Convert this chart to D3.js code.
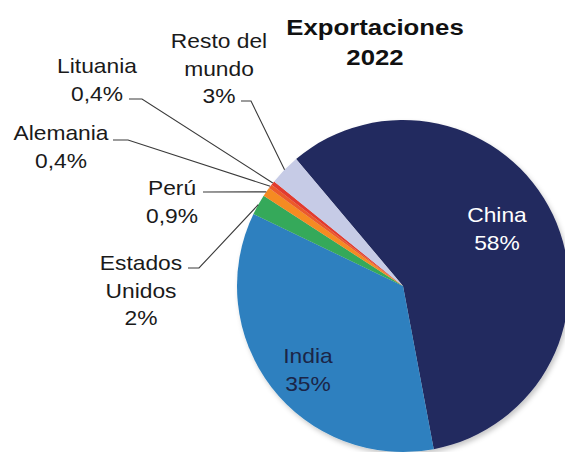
<!DOCTYPE html>
<html>
<head>
<meta charset="utf-8">
<script src="https://cdn.jsdelivr.net/npm/d3@7"></script>
<style>
  html, body { margin: 0; padding: 0; background: #fff; }
  svg { display: block; }
  text { font-family: "Liberation Sans", Arial, Helvetica, sans-serif; }
</style>
</head>
<body>
<svg id="chart" width="565" height="452"></svg>
<script>
// Export shares 2022 (% of total), in drawing order (clockwise)
const countries = ["China", "India", "Estados Unidos", "Perú", "Alemania", "Lituania", "Resto del mundo"];
const shares    = [58, 35, 2, 0.9, 0.4, 0.4, 3];
const colors    = ["#232a5e", "#2d80bf", "#36a95a", "#f58b22", "#ec5a2c", "#e23a2f", "#c6cbe6"];

// Text lines of each slice's name label
const labelLines = [
  ["China"], ["India"], ["Estados", "Unidos"], ["Perú"], ["Alemania"], ["Lituania"], ["Resto del", "mundo"]
];

const title = ["Exportaciones", "2022"];

const svg = d3.select("#chart");
const cx = 403, cy = 286, R = 166;
const stretch = 1.14;          // horizontal text stretch
const fmt = v => String(v).replace(".", ",") + "%";

const data = countries.map((c, i) => ({ name: c, value: shares[i], color: colors[i], lines: labelLines[i] }));

const startDeg = -40.1;
const pie = d3.pie().value(d => d.value).sort(null)
  .startAngle(startDeg * Math.PI / 180)
  .endAngle((startDeg + 360) * Math.PI / 180);
const arcs = pie(data);

const arc = d3.arc().innerRadius(0).outerRadius(R);

// soft shadow under the pie
const defs = svg.append("defs");
const f = defs.append("filter").attr("id", "shadow").attr("x", "-20%").attr("y", "-20%").attr("width", "140%").attr("height", "140%");
f.append("feDropShadow").attr("dx", 2).attr("dy", 3).attr("stdDeviation", 2.5).attr("flood-color", "#000").attr("flood-opacity", 0.22);

const g = svg.append("g").attr("transform", `translate(${cx},${cy})`);
g.append("g").attr("filter", "url(#shadow)")
  .selectAll("path").data(arcs).join("path")
  .attr("d", arc)
  .attr("fill", d => d.data.color);

// Title
title.forEach((t, i) => {
  svg.append("text")
    .attr("transform", `translate(375,${35 + i * 30}) scale(1.12,1)`)
    .attr("text-anchor", "middle")
    .attr("font-size", 23)
    .attr("font-weight", "bold")
    .attr("fill", "#111")
    .text(t);
});

// Inside labels for the two big slices
const inside = { "China": { x: 497, y: 222, fill: "#ffffff" }, "India": { x: 308, y: 363, fill: "#1b2547" } };

// Outside labels: text block centre x, first baseline, and leader start point
const outside = {
  "Resto del mundo": { x: 219, y: 48, lx: 241, ly: 101, kx: 251 },
  "Lituania":        { x: 97,  y: 73, lx: 129, ly: 99,  kx: 142 },
  "Alemania":        { x: 61,  y: 140, lx: 113, ly: 140, kx: 128 },
  "Perú":            { x: 172, y: 195, lx: 203, ly: 192, kx: 205 },
  "Estados Unidos":  { x: 141, y: 270, lx: 188, ly: 268, kx: 199 }
};

const lineH = 27.5;
arcs.forEach(a => {
  const d = a.data;
  const lines = d.lines.concat([fmt(d.value)]);
  if (inside[d.name]) {
    const p = inside[d.name];
    lines.forEach((t, i) => {
      svg.append("text")
        .attr("transform", `translate(${p.x},${p.y + i * lineH}) scale(${stretch},1)`)
        .attr("text-anchor", "middle")
        .attr("font-size", 20)
        .attr("fill", p.fill)
        .text(t);
    });
  } else {
    const p = outside[d.name];
    lines.forEach((t, i) => {
      svg.append("text")
        .attr("transform", `translate(${p.x},${p.y + i * lineH}) scale(${stretch},1)`)
        .attr("text-anchor", "middle")
        .attr("font-size", 20)
        .attr("fill", "#1a1a1a")
        .text(t);
    });
    // leader line to the slice edge at its mid angle
    const mid = (a.startAngle + a.endAngle) / 2;
    const ex = cx + R * Math.sin(mid), ey = cy - R * Math.cos(mid);
    svg.append("polyline")
      .attr("points", `${p.lx},${p.ly} ${p.kx},${p.ly} ${ex},${ey}`)
      .attr("fill", "none")
      .attr("stroke", "#3a3a3a")
      .attr("stroke-width", 1.1);
  }
});
</script>
</body>
</html>
